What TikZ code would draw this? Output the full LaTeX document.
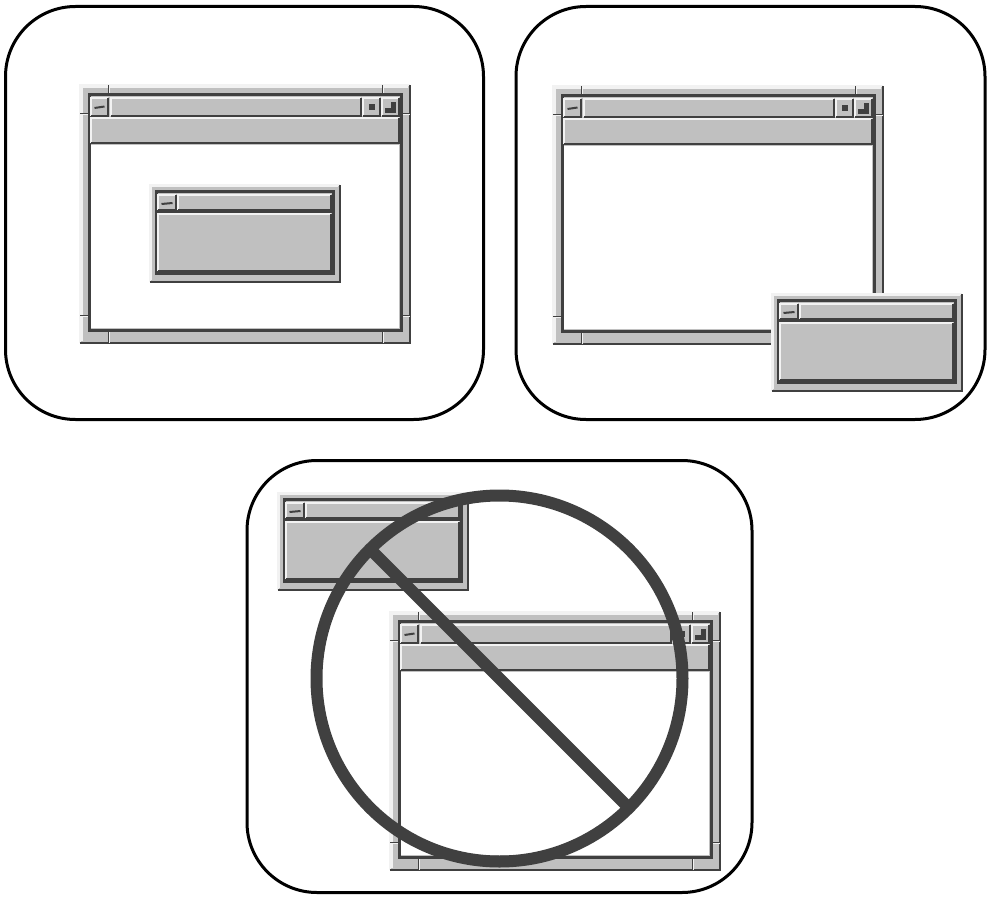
\documentclass[tikz,border=0pt]{standalone}
\usepackage{tikz}
\usetikzlibrary{calc}
\definecolor{wgray}{HTML}{C0C0C0}
\definecolor{whigh}{HTML}{F2F2F2}
\definecolor{wdark}{HTML}{404040}

% raised box: left, top, right, bottom
\newcommand\wbevel[4]{%
  \fill[wgray] (#1,#2) rectangle (#3,#4);
  \draw[whigh,line width=1.5pt] (#1,#4) -- (#1,#2) -- (#3,#2);
  \draw[wdark,line width=1.5pt] (#1,#4) -- (#3,#4) -- (#3,#2);
}

% main window with menu bar, top left at (#1,#2)
\newcommand\bigwindow[2]{%
  \begin{scope}[shift={(#1,#2)}]
    \wbevel{0}{0}{330}{258}
    \draw[whigh,line width=3pt] (1.5,256) -- (1.5,1.5) -- (328,1.5);
    % resize notches
    \foreach \n in {28,302}{
      \draw[wdark,line width=1pt] (\n,0) -- (\n,9) (\n,247) -- (\n,258);
      \draw[whigh,line width=1pt] (\n+1.5,0) -- (\n+1.5,9) (\n+1.5,247) -- (\n+1.5,258);
    }
    \foreach \n in {28,230}{
      \draw[wdark,line width=1pt] (0,\n) -- (9,\n) (321,\n) -- (330,\n);
      \draw[whigh,line width=1pt] (0,\n+1.5) -- (9,\n+1.5) (321,\n+1.5) -- (330,\n+1.5);
    }
    \draw[wdark,line width=3pt] (9.5,9.5) rectangle (321.5,245);
    % title bar
    \wbevel{11}{13}{28}{31}
    \draw[wdark,line width=2pt] (14.5,23) -- (24.5,21.5);
    \wbevel{31}{13}{281}{31}
    \wbevel{283}{13}{300}{31}
    \fill[wdark] (289,19) rectangle (295,25);
    \wbevel{302}{13}{319}{31}
    \fill[wdark] (305,17) rectangle (316,28);
    \fill[wgray] (305,17) rectangle (311,23);
    % menu bar, client area
    \wbevel{11}{33}{319}{58}
    \fill[white] (11,60) rectangle (319,243);
  \end{scope}}

% small dialog, top left at (#1,#2)
\newcommand\dialogwin[2]{%
  \begin{scope}[shift={(#1,#2)}]
    \wbevel{0}{0}{190}{97}
    \draw[whigh,line width=2.5pt] (1.2,95) -- (1.2,1.2) -- (188,1.2);
    \draw[wdark,line width=3pt] (6.5,6.5) rectangle (183,88);
    \wbevel{8}{10}{26}{25}
    \draw[wdark,line width=2pt] (11.5,19) -- (22.5,18);
    \wbevel{28}{10}{181}{25}
    \fill[wdark] (8,25) rectangle (181.5,28);
    \wbevel{8}{29}{181}{86}
  \end{scope}}

\begin{document}
\begin{tikzpicture}[x=1pt,y=-1pt,
    panel/.style={draw=black,line width=3pt,rounded corners=70pt}]
  \useasboundingbox (0,0) rectangle (988,899);
  % dialog centred on its parent
  \draw[panel] (5.5,6.5) rectangle (483.5,419.5);
  \bigwindow{80}{85}
  \dialogwin{150}{185}
  % dialog over the parent's corner
  \draw[panel] (516,6.5) rectangle (985,419.5);
  \bigwindow{553}{86}
  \dialogwin{772}{294}
  % dialog away from the parent: not allowed
  \draw[panel] (247,460.5) rectangle (752,892.5);
  \dialogwin{278}{493}
  \bigwindow{390}{612}
  \coordinate (ring) at (499.5,678.5);
  \draw[wdark,line width=12pt] (ring) circle[radius=183];
  \draw[wdark,line width=12pt] ($(ring)+(-129.4,-129.4)$) -- ($(ring)+(129.4,129.4)$);
\end{tikzpicture}
\end{document}
